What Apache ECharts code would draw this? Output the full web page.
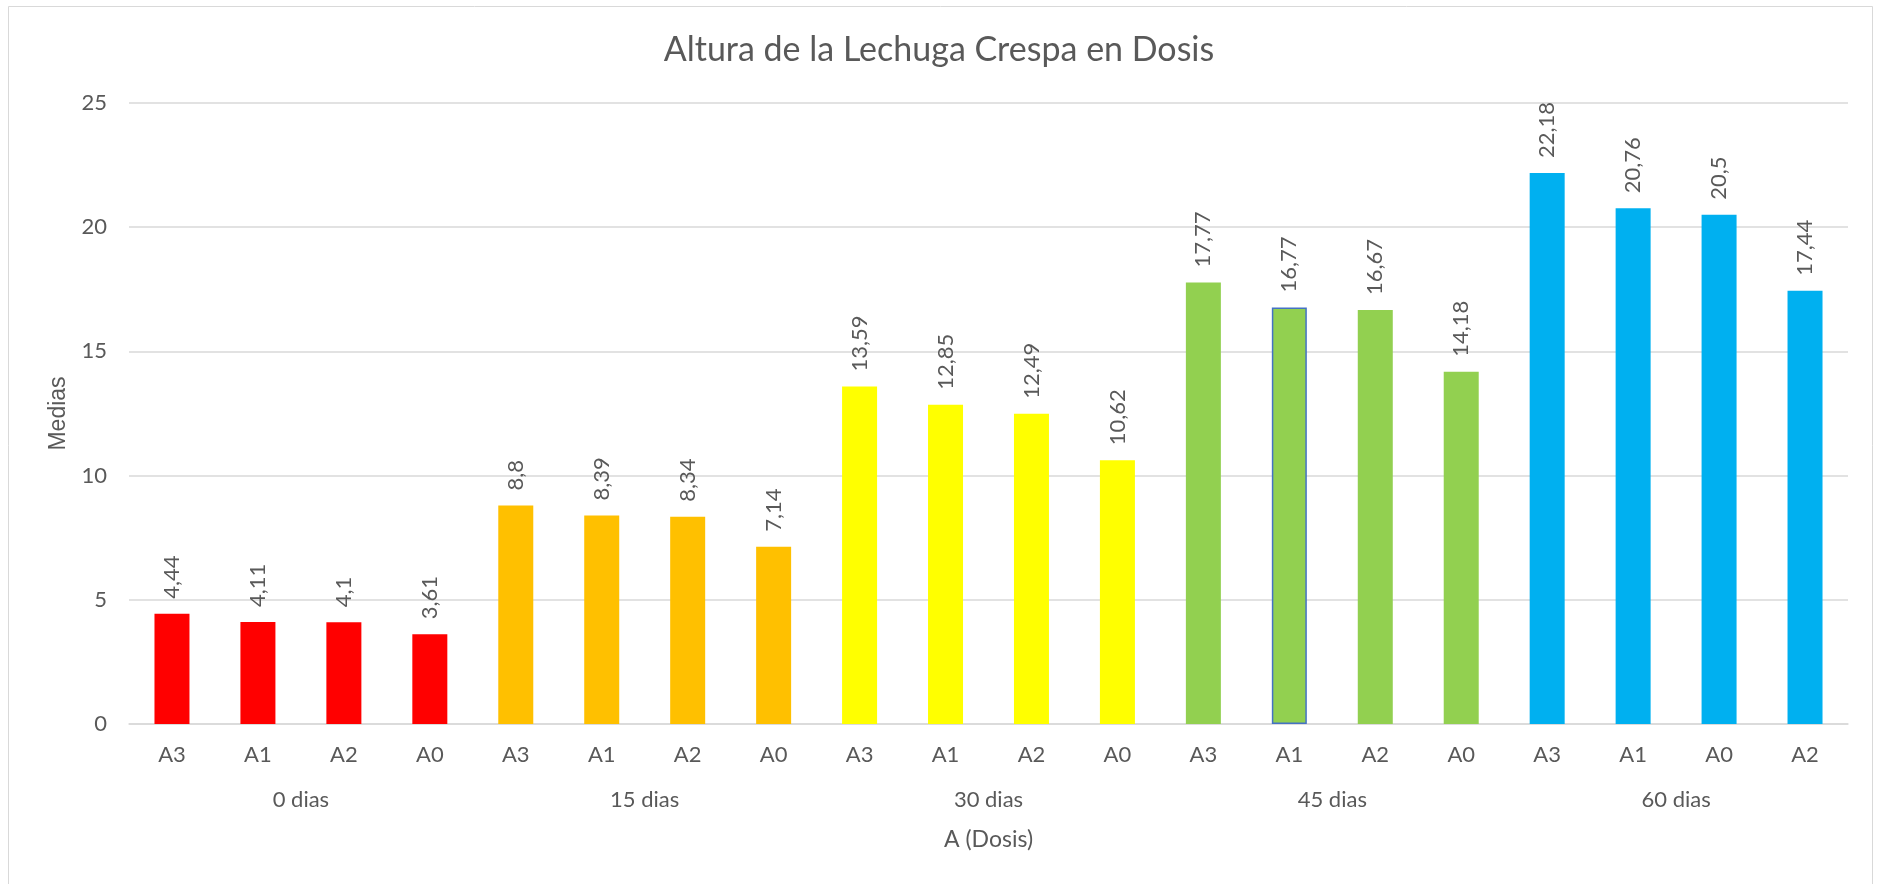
<!DOCTYPE html>
<html>
<head>
<meta charset="utf-8">
<title>Altura de la Lechuga Crespa en Dosis</title>
<script src="https://cdn.jsdelivr.net/npm/echarts@6/dist/echarts.min.js"></script>
<style>
  html, body { margin: 0; padding: 0; background: #fff; }
  #chart { width: 1878px; height: 884px; }
</style>
</head>
<body>
<div id="chart"></div>
<script>
// dosis por barra (nivel 1 del eje x)
var dosis = ['A3', 'A1', 'A2', 'A0', 'A3', 'A1', 'A2', 'A0', 'A3', 'A1', 'A2', 'A0',
             'A3', 'A1', 'A2', 'A0', 'A3', 'A1', 'A0', 'A2'];
// dias (nivel 2 del eje x)
var dias = ['0 dias', '15 dias', '30 dias', '45 dias', '60 dias'];
// medias
var medias = [4.44, 4.11, 4.1, 3.61, 8.8, 8.39, 8.34, 7.14, 13.59, 12.85, 12.49, 10.62,
              17.77, 16.77, 16.67, 14.18, 22.18, 20.76, 20.5, 17.44];
var coloresDias = ['#FF0000', '#FFC000', '#FFFF00', '#92D050', '#00B0F0'];
var yTicks = [0, 5, 10, 15, 20, 25];

var textColor = '#595959';
var fuente = 'Lato, Carlito, "Open Sans", sans-serif';

var barras = [];
for (var i = 0; i < medias.length; i++) {
    var item = {
        value: medias[i],
        itemStyle: { color: coloresDias[Math.floor(i / 4)] }
    };
    // la barra A1 de 45 dias tiene borde azul (seleccionada en Excel)
    if (i == 13) {
        item.itemStyle.borderColor = '#4472C4';
        item.itemStyle.borderWidth = 1.5;
    }
    barras.push(item);
}

var chart = echarts.init(document.getElementById('chart'));

var option = {
    backgroundColor: '#fff',
    animation: false,
    title: {
        text: 'Altura de la Lechuga Crespa en Dosis',
        left: 'center',
        top: 28,
        textStyle: {
            color: textColor,
            fontFamily: fuente,
            fontWeight: 'normal',
            fontSize: 34
        }
    },
    graphic: [{
        type: 'rect',
        shape: { x: 8.5, y: 6.5, width: 1864, height: 900 },
        style: { fill: 'none', stroke: '#D9D9D9', lineWidth: 1 },
        silent: true
    }],
    grid: {
        left: 129,
        right: 30,
        top: 103,
        bottom: 160
    },
    xAxis: [{
        type: 'category',
        data: dosis,
        axisLine: { lineStyle: { color: '#D9D9D9', width: 1.5 } },
        axisTick: { show: false },
        axisLabel: {
            color: textColor,
            fontFamily: fuente,
            fontSize: 22,
            margin: 20,
            interval: 0
        }
    }, {
        type: 'category',
        data: dias,
        position: 'bottom',
        offset: 45,
        axisLine: { show: false },
        axisTick: { show: false },
        axisLabel: {
            color: textColor,
            fontFamily: fuente,
            fontSize: 22,
            margin: 20,
            interval: 0
        },
        name: 'A (Dosis)',
        nameLocation: 'middle',
        nameGap: 59,
        nameTextStyle: {
            color: textColor,
            fontFamily: fuente,
            fontSize: 23
        }
    }],
    yAxis: {
        type: 'value',
        min: yTicks[0],
        max: yTicks[yTicks.length - 1],
        interval: 5,
        name: 'Medias',
        nameLocation: 'middle',
        nameRotate: 90,
        nameGap: 54,
        nameTextStyle: {
            color: textColor,
            fontFamily: '"Liberation Sans", Arial, sans-serif',
            fontSize: 23
        },
        axisLine: { show: false },
        axisTick: { show: false },
        axisLabel: {
            color: textColor,
            fontFamily: fuente,
            fontSize: 22,
            margin: 22
        },
        splitLine: { lineStyle: { color: '#D9D9D9', width: 1.5 } }
    },
    series: [{
        type: 'bar',
        xAxisIndex: 0,
        data: barras,
        barWidth: 35,
        label: {
            show: true,
            position: 'top',
            rotate: 90,
            align: 'left',
            verticalAlign: 'middle',
            distance: 15,
            color: textColor,
            fontFamily: fuente,
            fontSize: 22,
            formatter: function (p) {
                return String(p.value).replace('.', ',');
            }
        }
    }]
};

chart.setOption(option);
</script>
</body>
</html>
